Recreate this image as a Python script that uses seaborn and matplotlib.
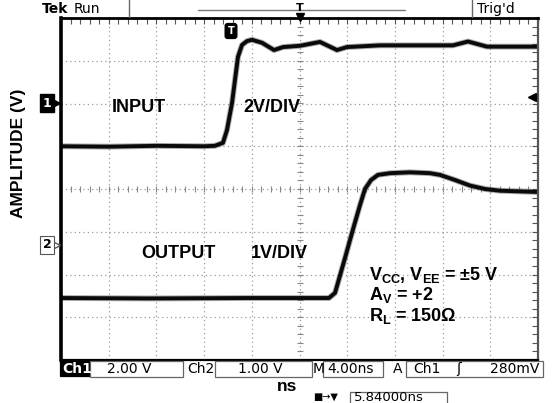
import numpy as np
import pandas as pd
import matplotlib.pyplot as plt
from matplotlib.patches import Rectangle
from matplotlib.lines import Line2D
import seaborn as sns

# time in ns (4 ns/div), amplitude in screen divisions (8 div tall)
IN_T = [0.0, 4.0, 8.0, 12.0, 12.9, 13.58, 13.92, 14.34, 14.59, 14.84, 15.18, 15.60,
        16.02, 16.86, 17.86, 18.62, 20.04, 21.72, 23.14, 23.98, 26.75, 30.10,
        32.87, 34.13, 35.72, 40.0]
IN_V = [1.0, 0.99, 1.01, 1.0, 1.01, 1.08, 1.38, 2.01, 2.55, 3.09, 3.37, 3.46,
        3.49, 3.42, 3.25, 3.32, 3.35, 3.44, 3.25, 3.32, 3.36, 3.36,
        3.36, 3.45, 3.33, 3.33]
OUT_T = [0.0, 7.46, 15.85, 22.47, 22.98, 23.82, 24.49, 25.08, 25.49, 26.0, 26.58,
         27.59, 29.27, 30.94, 31.78, 33.04, 34.30, 35.55, 36.81, 40.0]
OUT_V = [-2.55, -2.56, -2.55, -2.55, -2.43, -1.61, -0.94, -0.37, 0.0, 0.21, 0.33,
         0.37, 0.39, 0.37, 0.33, 0.21, 0.08, 0.0, -0.04, -0.07]
CHANNELS = ['INPUT', 'OUTPUT']

W, H = 559, 403


def fx(x):
    return x / W


def fy(y):
    return 1 - y / H


sns.set_style('white')
plt.rcParams['font.family'] = ['Liberation Sans', 'DejaVu Sans']
plt.rcParams['text.color'] = 'black'
plt.rcParams['axes.labelcolor'] = 'black'
plt.rcParams['axes.edgecolor'] = 'black'
plt.rcParams['mathtext.fontset'] = 'custom'
plt.rcParams['mathtext.rm'] = 'Liberation Sans:bold'
plt.rcParams['mathtext.it'] = 'Liberation Sans:bold'
plt.rcParams['mathtext.bf'] = 'Liberation Sans:bold'

df = pd.concat([
    pd.DataFrame({'t': IN_T, 'v': IN_V, 'ch': CHANNELS[0]}),
    pd.DataFrame({'t': OUT_T, 'v': OUT_V, 'ch': CHANNELS[1]}),
])

fig = plt.figure(figsize=(5.59, 4.03), dpi=100)
ax = fig.add_axes([fx(61), fy(360), 477 / W, 342 / H])

# soft fuzz then the trace itself
for lw, col, a in [(4.2, '#444444', 0.45), (2.8, '#0a0a0a', 1.0)]:
    sns.lineplot(data=df, x='t', y='v', units='ch', estimator=None, sort=False,
                 color=col, lw=lw, alpha=a, ax=ax, legend=False,
                 solid_joinstyle='round', solid_capstyle='round')

ax.set_xlim(0, 40)
ax.set_ylim(-4, 4)
ax.set_xticks(np.arange(0, 41, 4))
ax.set_yticks(np.arange(-4, 5, 1))
ax.set_xticks(np.arange(0, 40.01, 0.8), minor=True)
ax.set_yticks(np.arange(-4, 4.01, 0.2), minor=True)
ax.tick_params(which='both', direction='in', top=True, right=True,
               labelbottom=False, labelleft=False, length=4, width=0.8, color='#555')
ax.grid(True, which='major', color='#9a9a9a', ls=(0, (1, 2.5)), lw=0.9)
ax.set_axisbelow(True)

# centre graticule ticks
mx = np.arange(0, 40.01, 0.8)
my = np.arange(-4, 4.01, 0.2)
ax.plot(mx, np.zeros_like(mx), ls='none', marker='|', ms=5, mew=0.8, color='#888', zorder=1)
ax.plot(np.full_like(my, 20), my, ls='none', marker='_', ms=5, mew=0.8, color='#888', zorder=1)

ax.spines['left'].set_linewidth(2.6)
ax.spines['top'].set_linewidth(2.0)
ax.spines['bottom'].set_linewidth(1.6)
ax.spines['right'].set_linewidth(1.6)
ax.spines['right'].set_color('#555')
for s in ax.spines.values():
    s.set_zorder(5)

ax.set_xlabel('ns', fontsize=12.5, fontweight='bold')
ax.xaxis.set_label_coords((287 - 61) / 477, (360 - 379) / 342)
ax.set_ylabel('AMPLITUDE (V)', fontsize=12.5, fontweight='bold')
ax.yaxis.set_label_coords((26 - 61) / 477, (360 - 153) / 342)

# annotations
lab = dict(fontsize=13, fontweight='bold', ha='left', va='center')
fig.text(fx(112), fy(108), 'INPUT', **lab)
fig.text(fx(243), fy(107), '2V/DIV', **lab)
fig.text(fx(141), fy(253), 'OUTPUT', **lab)
fig.text(fx(251), fy(253), '1V/DIV', **lab)
fig.text(fx(369), fy(275), r'V$_{CC}$, V$_{EE}$ = ±5 V', **lab)
fig.text(fx(369), fy(295), r'A$_{V}$ = +2', **lab)
fig.text(fx(369), fy(316), r'R$_{L}$ = 150Ω', **lab)

# scope readouts
scope = dict(family='DejaVu Sans', fontsize=10, va='center')
fig.text(fx(42), fy(9), 'Tek', fontweight='bold', **scope)
fig.text(fx(74), fy(9), 'Run', **scope)
fig.text(fx(477), fy(9), "Trig'd", **scope)
fig.add_artist(Line2D([fx(129), fx(129)], [fy(0), fy(17)], color='#666', lw=1))
fig.add_artist(Line2D([fx(472), fx(472)], [fy(0), fy(17)], color='#666', lw=1))
fig.add_artist(Line2D([fx(198), fx(405)], [fy(10), fy(10)], color='#777', lw=1))
fig.text(fx(300), fy(8), 'T', ha='center', fontsize=8, fontweight='bold', va='center', family='DejaVu Sans')
fig.add_artist(Line2D([fx(300)], [fy(17)], marker='v', ms=6, color='black'))

# trigger marker on input trace
fig.text(fx(231), fy(31), 'T', ha='center', va='center', fontsize=7, fontweight='bold',
         color='white', family='DejaVu Sans',
         bbox=dict(boxstyle='round,pad=0.25', fc='black', ec='black'))

# channel ground markers
fig.text(fx(47), fy(103), '1', ha='center', va='center', fontsize=9, fontweight='bold',
         color='white', family='DejaVu Sans',
         bbox=dict(boxstyle='square,pad=0.2', fc='black', ec='black'))
fig.add_artist(Line2D([fx(56)], [fy(103)], marker='>', ms=6, color='black'))
fig.text(fx(47), fy(245), '2', ha='center', va='center', fontsize=9, fontweight='bold',
         color='black', family='DejaVu Sans',
         bbox=dict(boxstyle='square,pad=0.2', fc='white', ec='#555', lw=0.8))
fig.add_artist(Line2D([fx(56)], [fy(245)], marker='>', ms=6, mfc='white', mec='#555', color='#555'))
fig.add_artist(Line2D([fx(532)], [fy(97)], marker='<', ms=6, color='black'))


# bottom readout row
def box(x0, x1, y0, y1, fc='white', ec='#666'):
    fig.add_artist(Rectangle((fx(x0), fy(y1)), fx(x1) - fx(x0), fy(y0) - fy(y1),
                             fc=fc, ec=ec, lw=0.9, transform=fig.transFigure))


box(60, 90, 361, 376, fc='black', ec='black')
box(90, 183, 361, 377)
box(215, 312, 361, 377)
box(323, 383, 361, 377)
box(406, 543, 361, 377)
box(350, 447, 392, 404)
row = 369
fig.text(fx(62), fy(row), 'Ch1', color='white', fontweight='bold', **scope)
fig.text(fx(107), fy(row), '2.00 V', **scope)
fig.text(fx(187), fy(row), 'Ch2', **scope)
fig.text(fx(238), fy(row), '1.00 V', **scope)
fig.text(fx(313), fy(row), 'M', **scope)
fig.text(fx(327), fy(row), '4.00ns', **scope)
fig.text(fx(393), fy(row), 'A', **scope)
fig.text(fx(413), fy(row), 'Ch1', **scope)
fig.text(fx(456), fy(row), 'ʃ', **scope)
fig.text(fx(490), fy(row), '280mV', **scope)
fig.text(fx(313), fy(397), '■→▼', fontsize=7, family='DejaVu Sans', va='center')
fig.text(fx(354), fy(397.5), '5.84000ns', family='DejaVu Sans', fontsize=9.5, va='center')

fig.savefig('out.png', dpi=100)
